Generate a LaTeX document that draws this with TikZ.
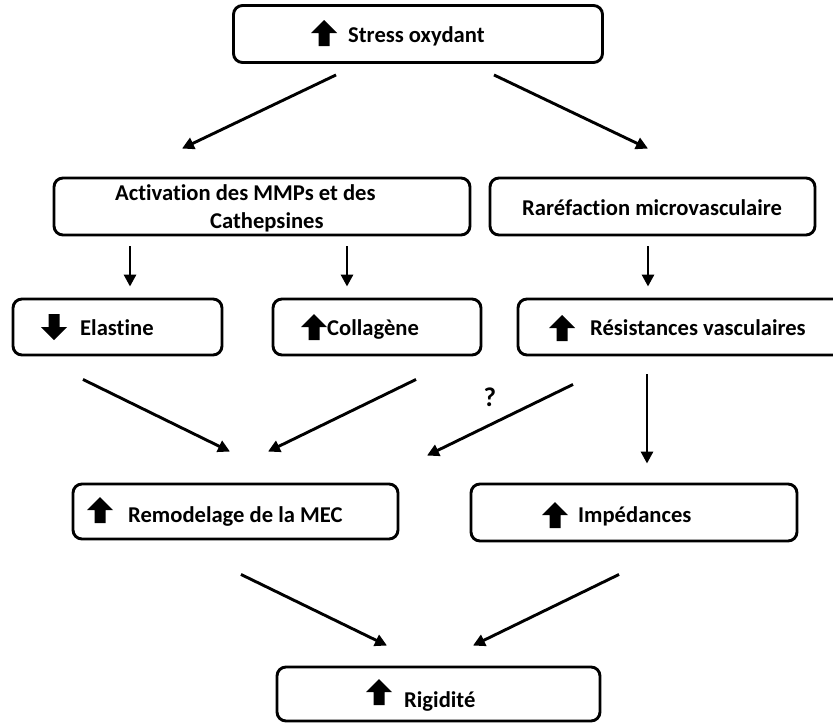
\documentclass[tikz,border=0pt]{standalone}
\usepackage{fontspec}
\setmainfont{Carlito}[Ligatures={NoCommon,NoRequired,NoContextual,NoRare}, Contextuals={NoAlternate}]
\usetikzlibrary{arrows.meta,positioning,calc}

\tikzset{
  box/.style={rectangle, rounded corners=9pt, draw, line width=2.9pt, inner sep=0pt},
  lbl/.style={anchor=base west, inner sep=0pt, font=\fontsize{22.6}{27}\selectfont\bfseries},
  arr/.style={line width=2.9pt, -{Triangle[length=12pt,width=12pt]}},
  uparrow/.pic={\fill (-13,0) -- (0,-13) -- (13,0) -- (5.5,0) -- (5.5,13) -- (-5.5,13) -- (-5.5,0) -- cycle;},
  downarrow/.pic={\fill (-13,0) -- (0,13) -- (13,0) -- (5.5,0) -- (5.5,-13) -- (-5.5,-13) -- (-5.5,0) -- cycle;}
}

\begin{document}
\begin{tikzpicture}[x=1pt, y=-1pt]
    \useasboundingbox (0,0) rectangle (833,723);

    % Top box
    \node[box, minimum width=369, minimum height=57] (stress) at (418,34) {};
    \pic at (324,33) {uparrow};
    \node[lbl] (stresstxt) at (348,42) {Stress oxydant};

    % Second row
    \node[box, minimum width=416, minimum height=57] (activ) at (262,206.5) {};
    \node[lbl] (activtxta) at (115,200) {Activation des MMPs et des};
    \node[lbl] (activtxtb) at (210,228) {Cathepsines};

    \node[box, minimum width=325, minimum height=57] (raref) at (652.5,206.5) {};
    \node[lbl] (reftxt) at (522,215) {Raréfaction microvasculaire};

    % Third row
    \node[box, minimum width=209, minimum height=56] (elast) at (117.5,327) {};
    \pic at (54,327) {downarrow};
    \node[lbl] (elasttxt) at (80,335) {Elastine};

    \node[box, minimum width=208, minimum height=56] (collag) at (377,327) {};
    \pic at (314,327) {uparrow};
    \node[lbl] (collagtxt) at (327,335) {Collagène};

    \node[box, minimum width=327, minimum height=56] (resist) at (681.5,327) {};
    \pic at (562,328) {uparrow};
    \node[lbl] (resisttxt) at (590,335) {Résistances vasculaires};

    % Fourth row
    \node[box, minimum width=325, minimum height=55] (remod) at (235.5,511.5) {};
    \pic at (100,510) {uparrow};
    \node[lbl] (remodtxt) at (128,522) {Remodelage de la MEC};

    \node[box, minimum width=326, minimum height=57] (imped) at (634,512.5) {};
    \pic at (555,515) {uparrow};
    \node[lbl] (impedtxt) at (578,522) {Impédances};

    % Bottom box
    \node[box, minimum width=323, minimum height=54] (rigid) at (438.5,694) {};
    \pic at (379,692) {uparrow};
    \node[lbl] (rigidtxt) at (404,707) {Rigidité};

    % Connections
    \draw[arr] ([shift={(-82,11)}]stress.south) -- ([shift={(-80,-28)}]activ.north);
    \draw[arr] ([shift={(76,11)}]stress.south) -- ([shift={(-4.5,-28)}]raref.north);

    \draw[arr] ([shift={(-132,10)}]activ.south) -- ([shift={(12.5,-11)}]elast.north);
    \draw[arr] ([shift={(85,10)}]activ.south) -- ([shift={(-30,-11)}]collag.north);
    \draw[arr] ([shift={(-4.5,10)}]raref.south) -- ([shift={(-33.5,-11)}]resist.north);

    \draw[arr] ([shift={(-34.5,23)}]elast.south) -- ([shift={(-5.5,-31)}]remod.north);
    \draw[arr] ([shift={(39,23)}]collag.south) -- ([shift={(32.5,-31)}]remod.north);
    \draw[arr] ([shift={(-108.5,28)}]resist.south) -- ([shift={(191.5,-27)}]remod.north)
        node[pos=0.5, xshift=-10pt, yshift=23pt, font=\fontsize{27}{30}\selectfont\bfseries] (quest) {?};
    \draw[arr] ([shift={(-34.5,18)}]resist.south) -- ([shift={(13,-19)}]imped.north);

    \draw[arr] ([shift={(5.5,34)}]remod.south) -- ([shift={(-51.5,-20)}]rigid.north);
    \draw[arr] ([shift={(-15,32)}]imped.south) -- ([shift={(34.5,-20)}]rigid.north);
\end{tikzpicture}
\end{document}
